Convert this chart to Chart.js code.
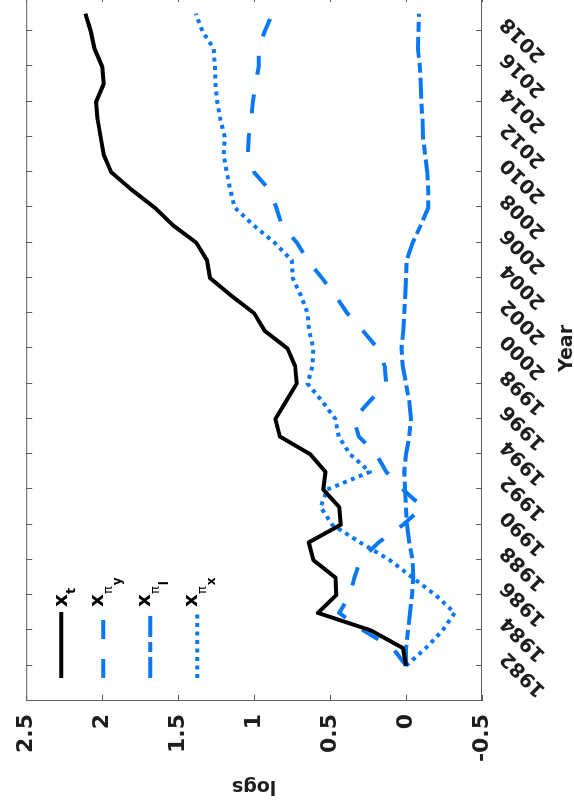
<!DOCTYPE html>
<html>
<head>
<meta charset="utf-8">
<title>logs by year</title>
<script src="https://cdn.jsdelivr.net/npm/chart.js@4.4.1/dist/chart.umd.min.js"></script>
<style>
  html, body { margin: 0; padding: 0; background: #fff; }
  #wrap { position: relative; width: 574px; height: 802px; overflow: hidden; background: #fff; }
  /* the plot is laid out landscape and turned a quarter turn counter-clockwise */
  #c { position: absolute; left: 0; top: 0; transform-origin: 0 0;
       transform: translate(0px, 804px) rotate(-90deg); }
</style>
</head>
<body>
<div id="wrap"><canvas id="c" width="808" height="574" style="width:808px;height:574px"></canvas></div>
<script>
// ---- data -------------------------------------------------------------
const years = [1982, 1983, 1984, 1985, 1986, 1987, 1988, 1989, 1990, 1991,
               1992, 1993, 1994, 1995, 1996, 1997, 1998, 1999, 2000, 2001,
               2002, 2003, 2004, 2005, 2006, 2007, 2008, 2009, 2010, 2011,
               2012, 2013, 2014, 2015, 2016, 2017, 2018, 2019];

const xT   = [0.00, 0.02, 0.23, 0.58, 0.46, 0.465, 0.61, 0.64, 0.43, 0.44,
              0.545, 0.53, 0.63, 0.83, 0.86, 0.79, 0.72, 0.73, 0.78, 0.93,
              1.00, 1.15, 1.29, 1.31, 1.38, 1.535, 1.655, 1.805, 1.94, 1.99,
              2.01, 2.03, 2.04, 1.99, 2.00, 2.05, 2.075, 2.11];

const xPiY = [0.00, 0.087, 0.28, 0.44, 0.37, 0.34, 0.30, 0.18, 0.02, -0.11,
              0.02, 0.13, 0.195, 0.31, 0.345, 0.24, 0.13, 0.14, 0.186, 0.283,
              0.387, 0.465, 0.553, 0.647, 0.718, 0.818, 0.854, 0.90, 1.00, 1.04,
              1.036, 1.02, 1.008, 0.99, 0.97, 0.97, 0.93, 0.88];

const xPiL = [0.00, 0.00, -0.013, -0.026, -0.039, -0.047, -0.043, -0.021, -0.006, 0.00,
              0.006, 0.011, 0.00, -0.021, -0.032, -0.021, 0.00, 0.022, 0.03, 0.018,
              0.011, 0.005, 0.00, -0.004, -0.043, -0.097, -0.147, -0.147, -0.14, -0.125,
              -0.112, -0.108, -0.101, -0.097, -0.091, -0.078, -0.082, -0.086];

const xPiX = [0.00, -0.13, -0.24, -0.32, -0.195, -0.043, 0.108, 0.303, 0.486, 0.562,
              0.519, 0.238, 0.368, 0.443, 0.465, 0.551, 0.648, 0.616, 0.61, 0.638,
              0.648, 0.692, 0.746, 0.752, 0.865, 1.005, 1.128, 1.157, 1.18, 1.20,
              1.193, 1.222, 1.243, 1.254, 1.258, 1.265, 1.34, 1.384];

const yearTicks = [1982, 1984, 1986, 1988, 1990, 1992, 1994, 1996, 1998, 2000,
                   2002, 2004, 2006, 2008, 2010, 2012, 2014, 2016, 2018];
const logTicks = [-0.5, 0, 0.5, 1, 1.5, 2, 2.5];
const logTickLabels = ['-0.5', '0', '0.5', '1', '1.5', '2', '2.5'];

// legend text: base letter, subscript, sub-subscript
const seriesNames = [['x', 't', ''], ['x', 'π', 'y'], ['x', 'π', 'l'], ['x', 'π', 'x']];

// ---- styling ----------------------------------------------------------
const FONT = "'DejaVu Sans', Verdana, sans-serif";
const BLUE = '#0a78f2';
const INK = '#1e1e1e';
const FRAME = '#5e5e5e';
const TICK_LEN = 6;

const styles = [
  { color: '#000000', dash: [] },
  { color: BLUE, dash: [19, 20] },
  { color: BLUE, dash: [21, 5, 10, 5] },
  { color: BLUE, dash: [4, 4.5] }
];

const seriesValues = [xT, xPiY, xPiL, xPiX];

const datasets = seriesValues.map((vals, i) => ({
  label: seriesNames[i].join(''),
  data: years.map((yr, k) => ({ x: yr, y: vals[k] })),
  borderColor: styles[i].color,
  backgroundColor: styles[i].color,
  borderDash: styles[i].dash,
  borderWidth: 4,
  borderJoinStyle: 'round',
  borderCapStyle: 'butt',
  pointRadius: 0,
  pointHoverRadius: 0,
  tension: 0,
  fill: false
}));

// box around the axes with inward tick marks on all four sides
const framePlugin = {
  id: 'frameTicks',
  afterDatasetsDraw(chart) {
    const { ctx, chartArea: a, scales: { x, y } } = chart;
    ctx.save();
    ctx.strokeStyle = FRAME;
    ctx.lineWidth = 1;
    ctx.beginPath();
    x.ticks.forEach(t => {
      const p = Math.round(x.getPixelForValue(t.value)) + 0.5;
      ctx.moveTo(p, a.bottom); ctx.lineTo(p, a.bottom - TICK_LEN);
      ctx.moveTo(p, a.top); ctx.lineTo(p, a.top + TICK_LEN);
    });
    y.ticks.forEach(t => {
      const p = Math.round(y.getPixelForValue(t.value)) + 0.5;
      ctx.moveTo(a.left, p); ctx.lineTo(a.left + TICK_LEN, p);
      ctx.moveTo(a.right, p); ctx.lineTo(a.right - TICK_LEN, p);
    });
    ctx.stroke();
    ctx.strokeRect(a.left + 0.5, a.top + 0.5, a.right - a.left - 1, a.bottom - a.top - 1);
    ctx.restore();
  }
};

// legend with subscripted names, inside the upper-left corner of the axes
const legendPlugin = {
  id: 'subscriptLegend',
  afterDraw(chart) {
    const { ctx, chartArea: a } = chart;
    const rows = [35, 77, 124, 171];
    ctx.save();
    chart.data.datasets.forEach((ds, i) => {
      const cy = a.top + rows[i];
      ctx.beginPath();
      ctx.setLineDash(ds.borderDash);
      ctx.lineDashOffset = 0;
      ctx.lineWidth = 4;
      ctx.lineCap = 'butt';
      ctx.strokeStyle = ds.borderColor;
      ctx.moveTo(a.left + 23, cy);
      ctx.lineTo(a.left + 89, cy);
      ctx.stroke();
      ctx.setLineDash([]);

      const [base, sub, sub2] = seriesNames[i];
      const baseY = sub2 ? cy : cy + 6;
      let tx = a.left + 94;
      ctx.fillStyle = '#000';
      ctx.textBaseline = 'alphabetic';
      ctx.textAlign = 'left';
      ctx.font = 'bold 20px ' + FONT;
      ctx.fillText(base, tx, baseY);
      tx += ctx.measureText(base).width;
      if (sub2) {
        ctx.font = '13px ' + FONT;
        ctx.fillText(sub, tx, baseY + 9);
        tx += ctx.measureText(sub).width + 1;
        ctx.font = 'bold 12px ' + FONT;
        ctx.fillText(sub2, tx, baseY + 18);
      } else {
        ctx.font = 'bold 13px ' + FONT;
        ctx.fillText(sub, tx, baseY + 8);
      }
    });
    ctx.restore();
  }
};

new Chart(document.getElementById('c'), {
  type: 'line',
  data: { datasets },
  plugins: [framePlugin, legendPlugin],
  options: {
    responsive: false,
    animation: false,
    devicePixelRatio: 1,
    layout: { padding: { top: 19, right: 0, bottom: 0, left: 0 } },
    plugins: { legend: { display: false }, tooltip: { enabled: false } },
    scales: {
      x: {
        type: 'linear',
        min: 1980,
        max: 2020,
        afterBuildTicks: s => { s.ticks = yearTicks.map(v => ({ value: v })); },
        afterFit: s => { s.height = 92; },
        grid: { display: false, drawTicks: false },
        border: { display: false },
        ticks: {
          autoSkip: false,
          minRotation: 45,
          maxRotation: 45,
          padding: 14,
          labelOffset: 11,
          color: INK,
          font: { family: FONT, size: 19.5, weight: 'bold' },
          callback: v => String(v)
        },
        title: {
          display: true,
          text: 'Year',
          color: INK,
          font: { family: FONT, size: 19, weight: 'bold' },
          padding: { top: 0, bottom: -4 }
        }
      },
      y: {
        type: 'linear',
        min: -0.5,
        max: 2.5,
        afterBuildTicks: s => { s.ticks = logTicks.map(v => ({ value: v })); },
        afterFit: s => { s.width = 103; },
        grid: { display: false, drawTicks: false },
        border: { display: false },
        ticks: {
          padding: 13,
          color: INK,
          font: { family: FONT, size: 22, weight: 'bold' },
          callback: v => logTickLabels[logTicks.indexOf(v)]
        },
        title: {
          display: true,
          text: 'logs',
          color: INK,
          font: { family: FONT, size: 19, weight: 'bold' },
          padding: { top: 7, bottom: 0 }
        }
      }
    }
  }
});
</script>
</body>
</html>
